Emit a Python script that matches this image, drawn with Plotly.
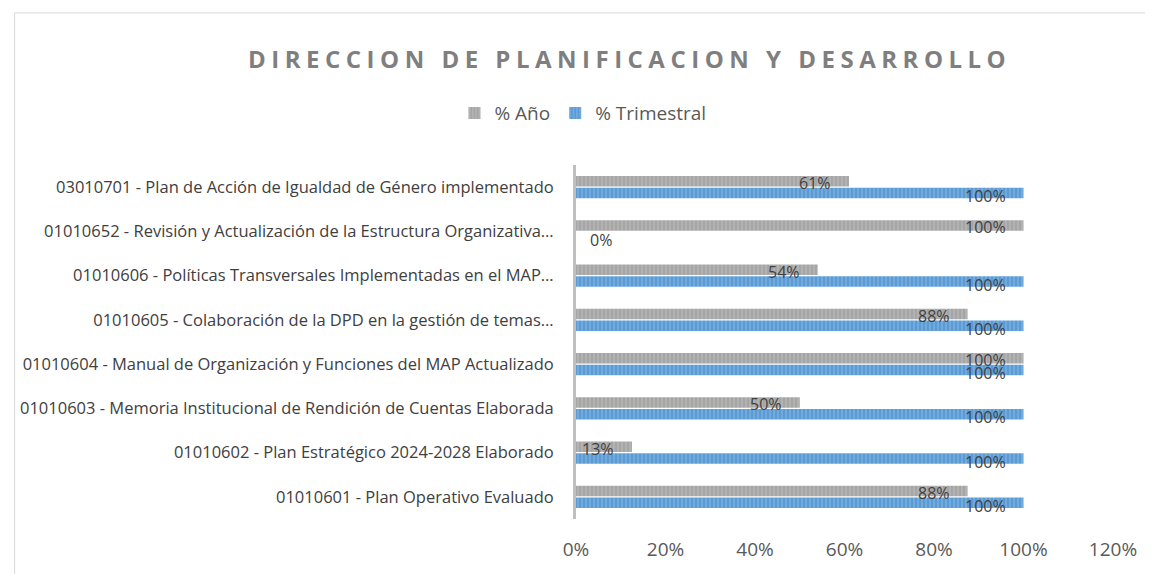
import math
import plotly.graph_objects as go

categories = [
    "01010601 - Plan Operativo Evaluado",
    "01010602 - Plan Estratégico 2024-2028 Elaborado",
    "01010603 - Memoria Institucional de Rendición de Cuentas Elaborada",
    "01010604 - Manual de Organización y Funciones del MAP Actualizado",
    "01010605 - Colaboración de la DPD en la gestión de temas…",
    "01010606 - Políticas Transversales Implementadas en el MAP…",
    "01010652 - Revisión y Actualización de la Estructura Organizativa…",
    "03010701 - Plan de Acción de Igualdad de Género implementado",
]
pct_anio = [0.875, 0.125, 0.50, 1.00, 0.875, 0.54, 1.00, 0.61]
pct_trim = [1.00, 1.00, 1.00, 1.00, 1.00, 1.00, 0.00, 1.00]
x_ticks = [0, 0.2, 0.4, 0.6, 0.8, 1.0, 1.2]
x_tick_labels = ["0%", "20%", "40%", "60%", "80%", "100%", "120%"]

def fmt(v):
    return f"{math.floor(v * 100 + 0.5)}%"

# page body has an 8px margin, so the figure is drawn offset by 8px
W, H = 1145, 566
ML, MR, MT, MB = 565, 40, 157, 54
PW, PH = W - ML - MR, H - MT - MB

fig = go.Figure()
fig.add_trace(go.Bar(
    name="% Trimestral", y=categories, x=pct_trim, orientation="h",
    marker=dict(color="#5b9bd5", line=dict(width=0),
                pattern=dict(shape="|", fgcolor="#a9cbeb", size=4, solidity=0.3, fillmode="overlay")),
    hoverinfo="skip",
))
fig.add_trace(go.Bar(
    name="% Año", y=categories, x=pct_anio, orientation="h",
    marker=dict(color="#a5a5a5", line=dict(width=0),
                pattern=dict(shape="|", fgcolor="#d0d0d0", size=4, solidity=0.3, fillmode="overlay")),
    hoverinfo="skip",
))

label_font = dict(size=16, color="#404040", family="Open Sans")
annotations = []
for vals, yshift in ((pct_anio, 4), (pct_trim, -9)):
    for cat, v in zip(categories, vals):
        if v < 0.1:
            annotations.append(dict(x=0, y=cat, xref="x", yref="y", text=fmt(v),
                                    xanchor="left", xshift=12 if v == 0 else 6, yshift=yshift,
                                    showarrow=False, font=label_font))
        else:
            annotations.append(dict(x=v, y=cat, xref="x", yref="y", text=fmt(v),
                                    xanchor="right", xshift=-16, yshift=yshift,
                                    showarrow=False, font=label_font))

fig.update_layout(
    width=W, height=H,
    margin=dict(l=ML, r=MR, t=MT, b=MB, pad=0),
    paper_bgcolor="white", plot_bgcolor="white",
    barmode="group", bargap=0.47, bargroupgap=0.12,
    font=dict(family="Open Sans", color="#595959"),
    title=dict(
        text='<b><span style="letter-spacing:5.5px">DIRECCION DE PLANIFICACION Y DESARROLLO</span></b>',
        x=240 / W, xanchor="left", xref="container",
        y=1 - 52 / H, yanchor="middle", yref="container",
        font=dict(size=24, color="#7f7f7f", family="Open Sans"),
    ),
    legend=dict(
        orientation="h", traceorder="reversed",
        x=(572 - ML) / PW, xanchor="center",
        y=1 + (MT - 105) / PH, yanchor="middle",
        font=dict(size=19, color="#595959"),
        itemwidth=30, itemsizing="constant",
    ),
    xaxis=dict(
        range=[0, 1.2], tickvals=x_ticks, ticktext=x_tick_labels,
        showgrid=False, zeroline=False, showline=False,
        tickfont=dict(size=19, color="#595959"), ticks="", ticklabelstandoff=17,
    ),
    yaxis=dict(
        showgrid=False, zeroline=False, showline=True, linecolor="#bfbfbf", linewidth=3,
        ticks="", tickfont=dict(size=16.5, color="#404040"), ticklabelstandoff=16,
        categoryorder="array", categoryarray=categories,
    ),
    annotations=annotations,
    shapes=[dict(type="rect", xref="paper", yref="paper",
                 x0=(0.5 - ML) / PW, x1=(W + 20 - ML) / PW,
                 y0=-0.5, y1=1 + (MT - 4.5) / PH,
                 line=dict(color="#d9d9d9", width=1), layer="below")],
    showlegend=True,
)

fig.write_html("out.html")
